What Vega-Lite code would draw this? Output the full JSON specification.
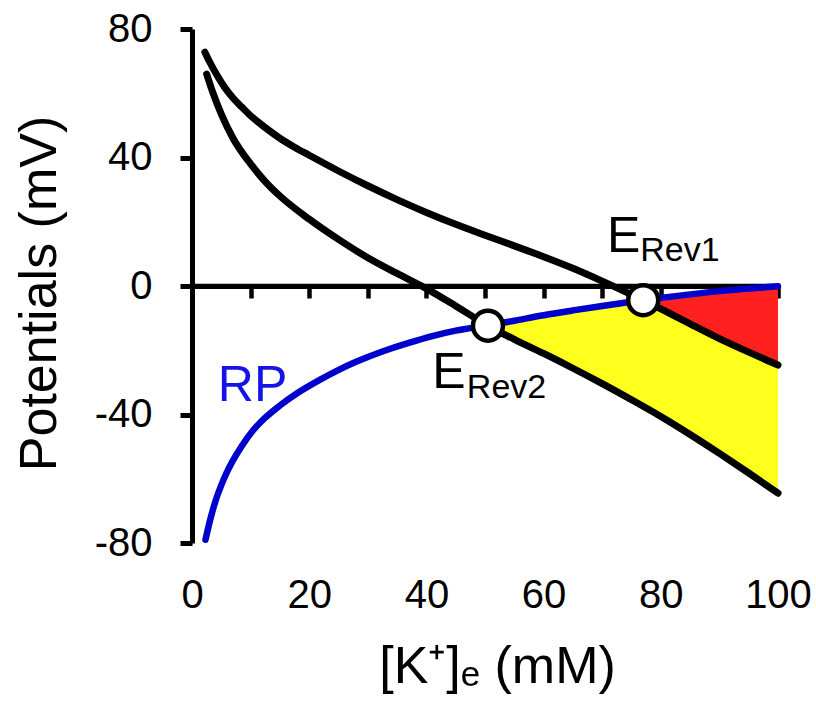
{
  "$schema": "https://vega.github.io/schema/vega-lite/v6.json",
  "width": 586,
  "height": 514,
  "autosize": {"type": "none"},
  "padding": {"left": 192, "top": 29, "right": 38, "bottom": 159},
  "background": "white",
  "config": {"view": {"stroke": null}, "font": "Liberation Sans"},
  "datasets": {
    "zero": [{"K": 0, "K2": 100, "V": 0}],
    "upper": [
      {"K": 2.2, "V": 72.8}, {"K": 3, "V": 69.8}, {"K": 4.3, "V": 65.5}, {"K": 5.5, "V": 62}, {"K": 7, "V": 58.5},
      {"K": 8.5, "V": 55.7}, {"K": 10, "V": 53}, {"K": 12.5, "V": 49.3}, {"K": 15, "V": 46}, {"K": 17.5, "V": 43.2},
      {"K": 20, "V": 40.7}, {"K": 25, "V": 35.8}, {"K": 30, "V": 31.2}, {"K": 35, "V": 26.9}, {"K": 40, "V": 22.9},
      {"K": 45, "V": 19.2}, {"K": 50, "V": 15.8}, {"K": 55, "V": 12.5}, {"K": 60, "V": 9.1}, {"K": 65, "V": 5.5},
      {"K": 70, "V": 1.5}, {"K": 75, "V": -2.7}, {"K": 77, "V": -4.4}, {"K": 80, "V": -7.1}, {"K": 85, "V": -11.8},
      {"K": 90, "V": -16.4}, {"K": 95, "V": -20.6}, {"K": 100, "V": -24.6}
    ],
    "lower": [
      {"K": 2.5, "V": 66}, {"K": 3.5, "V": 60.5}, {"K": 5, "V": 53.5}, {"K": 7, "V": 46}, {"K": 10, "V": 38},
      {"K": 12.5, "V": 32.5}, {"K": 15, "V": 28}, {"K": 20, "V": 20.8}, {"K": 25, "V": 14.5}, {"K": 30, "V": 8.8},
      {"K": 35, "V": 3.9}, {"K": 40, "V": -0.8}, {"K": 45, "V": -6.2}, {"K": 50.5, "V": -12.4}, {"K": 55, "V": -16.6},
      {"K": 60, "V": -21}, {"K": 65, "V": -25.6}, {"K": 70, "V": -30.4}, {"K": 75, "V": -35.4}, {"K": 80, "V": -40.6},
      {"K": 85, "V": -46.2}, {"K": 90, "V": -52.1}, {"K": 95, "V": -58.2}, {"K": 100, "V": -64.5}
    ],
    "rp": [
      {"K": 2.3, "V": -79}, {"K": 3, "V": -73.5}, {"K": 4, "V": -67}, {"K": 5, "V": -62}, {"K": 6, "V": -57.8},
      {"K": 7, "V": -54.3}, {"K": 8.5, "V": -49.8}, {"K": 10.4, "V": -45}, {"K": 12.5, "V": -41}, {"K": 15, "V": -37.2},
      {"K": 18, "V": -33.3}, {"K": 21.8, "V": -29.2}, {"K": 24.7, "V": -26.4}, {"K": 28, "V": -23.6}, {"K": 32.6, "V": -20.3},
      {"K": 37, "V": -17.7}, {"K": 41, "V": -15.6}, {"K": 45, "V": -13.9}, {"K": 50.5, "V": -12.3}, {"K": 55, "V": -10.8},
      {"K": 60, "V": -9.1}, {"K": 65, "V": -7.6}, {"K": 70, "V": -6.2}, {"K": 75, "V": -4.9}, {"K": 77, "V": -4.4},
      {"K": 80, "V": -3.7}, {"K": 85, "V": -2.6}, {"K": 90, "V": -1.6}, {"K": 95, "V": -0.8}, {"K": 100, "V": -0.1}
    ],
    "fill": [
      {"K": 50.5, "rp": -12.3, "lower": -12.4},
      {"K": 55, "rp": -10.8, "lower": -16.6},
      {"K": 60, "rp": -9.1, "lower": -21},
      {"K": 65, "rp": -7.6, "lower": -25.6},
      {"K": 70, "rp": -6.2, "lower": -30.4},
      {"K": 75, "rp": -4.9, "lower": -35.4},
      {"K": 77, "rp": -4.4, "lower": -37.5, "upper": -4.4},
      {"K": 80, "rp": -3.7, "lower": -40.6, "upper": -7.1},
      {"K": 85, "rp": -2.6, "lower": -46.2, "upper": -11.8},
      {"K": 90, "rp": -1.6, "lower": -52.1, "upper": -16.4},
      {"K": 95, "rp": -0.8, "lower": -58.2, "upper": -20.6},
      {"K": 100, "rp": -0.1, "lower": -65.5, "upper": -24.6}
    ],
    "points": [
      {"name": "ERev2", "K": 50.5, "V": -12.35},
      {"name": "ERev1", "K": 77, "V": -4.4}
    ],
    "bigLabels": [
      {"text": "E", "K": 70.8, "V": 10.6, "kind": "E"},
      {"text": "E", "K": 41, "V": -31.8, "kind": "E"},
      {"text": "RP", "K": 4.4, "V": -35.8, "kind": "RP"}
    ],
    "subLabels": [
      {"text": "Rev1", "K": 76.5, "V": 7.8},
      {"text": "Rev2", "K": 46.9, "V": -34.9}
    ]
  },
  "layer": [
    {
      "data": {"name": "fill"},
      "mark": {"type": "area", "color": "#ffff1e", "opacity": 1},
      "encoding": {
        "x": {
          "field": "K", "type": "quantitative",
          "scale": {"domain": [0, 100], "nice": false, "zero": false},
          "axis": {
            "values": [0, 10, 20, 30, 40, 50, 60, 70, 80, 90, 100],
            "labelExpr": "datum.value % 20 == 0 ? '' + datum.value : ''",
            "offset": -257,
            "domainColor": "black", "domainWidth": 5,
            "tickColor": "black", "tickWidth": 4.5, "tickSize": 12,
            "labelFontSize": 40, "labelColor": "black", "labelPadding": 277,
            "labelFlush": false, "labelOverlap": false,
            "grid": false,
            "title": "[K⁺]ₑ (mM)", "titleFontSize": 52, "titleFontWeight": "normal", "titleColor": "black",
            "titleX": 305, "titleY": 396, "titleBaseline": "alphabetic", "titleAlign": "center"
          }
        },
        "y": {
          "field": "rp", "type": "quantitative",
          "scale": {"domain": [-80, 80], "nice": false, "zero": false},
          "axis": {
            "values": [-80, -40, 0, 40, 80],
            "labelExpr": "'' + datum.value",
            "domainColor": "black", "domainWidth": 5,
            "tickColor": "black", "tickWidth": 5, "tickSize": 12,
            "labelFontSize": 40, "labelColor": "black", "labelPadding": 28, "labelFlush": false,
            "grid": false,
            "title": "Potentials (mV)", "titleFontSize": 52, "titleFontWeight": "normal", "titleColor": "black",
            "titleX": -137, "titleY": 264, "titleAngle": -90, "titleBaseline": "alphabetic", "titleAlign": "center"
          }
        },
        "y2": {"field": "lower"}
      }
    },
    {
      "data": {"name": "fill"},
      "transform": [{"filter": "isValid(datum.upper)"}],
      "mark": {"type": "area", "color": "#ff2020", "opacity": 1},
      "encoding": {
        "x": {"field": "K", "type": "quantitative"},
        "y": {"field": "rp", "type": "quantitative"},
        "y2": {"field": "upper"}
      }
    },
    {
      "data": {"name": "zero"},
      "mark": {"type": "rule", "color": "black", "strokeWidth": 4.5},
      "encoding": {
        "x": {"field": "K", "type": "quantitative"},
        "x2": {"field": "K2"},
        "y": {"field": "V", "type": "quantitative"}
      }
    },
    {
      "data": {"name": "upper"},
      "mark": {"type": "line", "color": "black", "strokeWidth": 7, "strokeCap": "round", "interpolate": "monotone"},
      "encoding": {
        "x": {"field": "K", "type": "quantitative"},
        "y": {"field": "V", "type": "quantitative"}
      }
    },
    {
      "data": {"name": "lower"},
      "mark": {"type": "line", "color": "black", "strokeWidth": 7, "strokeCap": "round", "interpolate": "monotone"},
      "encoding": {
        "x": {"field": "K", "type": "quantitative"},
        "y": {"field": "V", "type": "quantitative"}
      }
    },
    {
      "data": {"name": "rp"},
      "mark": {"type": "line", "color": "#0000cc", "strokeWidth": 6.5, "strokeCap": "round", "interpolate": "monotone"},
      "encoding": {
        "x": {"field": "K", "type": "quantitative"},
        "y": {"field": "V", "type": "quantitative"}
      }
    },
    {
      "data": {"name": "points"},
      "mark": {"type": "point", "filled": false, "fill": "white", "fillOpacity": 1, "stroke": "black", "strokeWidth": 4.5, "size": 900, "opacity": 1},
      "encoding": {
        "x": {"field": "K", "type": "quantitative"},
        "y": {"field": "V", "type": "quantitative"}
      }
    },
    {
      "data": {"name": "bigLabels"},
      "mark": {"type": "text", "fontSize": 50, "align": "left", "baseline": "alphabetic", "font": "Liberation Sans"},
      "encoding": {
        "x": {"field": "K", "type": "quantitative"},
        "y": {"field": "V", "type": "quantitative"},
        "text": {"field": "text"},
        "color": {
          "field": "kind", "type": "nominal",
          "scale": {"domain": ["E", "RP"], "range": ["black", "#1414e6"]},
          "legend": null
        }
      }
    },
    {
      "data": {"name": "subLabels"},
      "mark": {"type": "text", "fontSize": 34, "align": "left", "baseline": "alphabetic", "color": "black", "font": "Liberation Sans"},
      "encoding": {
        "x": {"field": "K", "type": "quantitative"},
        "y": {"field": "V", "type": "quantitative"},
        "text": {"field": "text"}
      }
    }
  ]
}
